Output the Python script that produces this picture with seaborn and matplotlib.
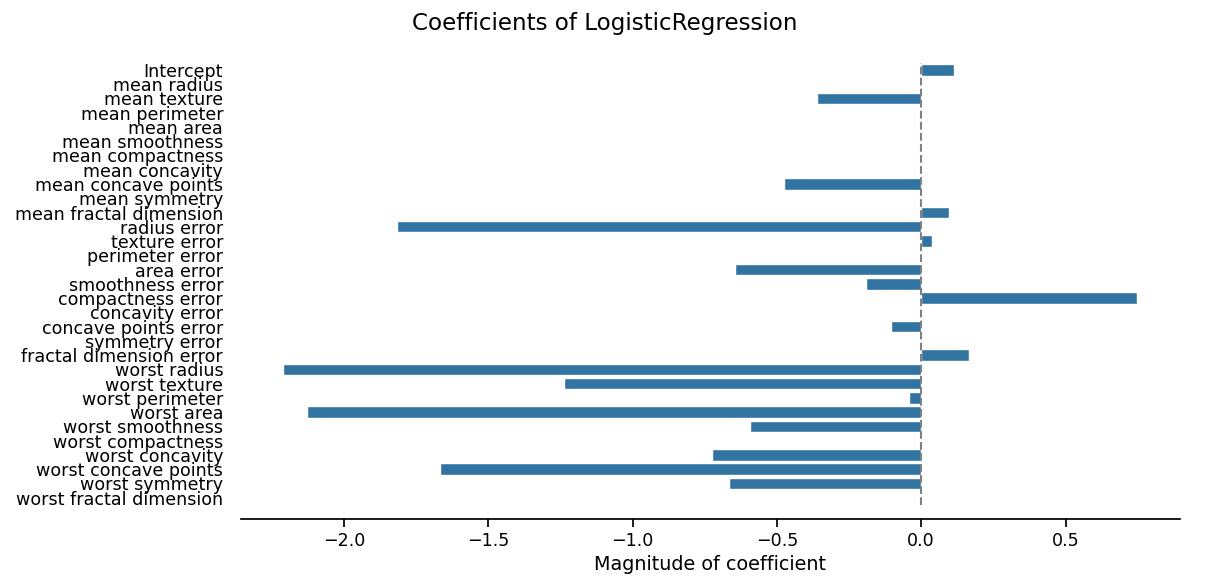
import numpy as np
import pandas as pd
import matplotlib
matplotlib.use("Agg")
import matplotlib.pyplot as plt
import seaborn as sns

# Feature names (Intercept first, then breast cancer features)
features = [
    "Intercept", "mean radius", "mean texture", "mean perimeter", "mean area",
    "mean smoothness", "mean compactness", "mean concavity", "mean concave points",
    "mean symmetry", "mean fractal dimension", "radius error", "texture error",
    "perimeter error", "area error", "smoothness error", "compactness error",
    "concavity error", "concave points error", "symmetry error",
    "fractal dimension error", "worst radius", "worst texture", "worst perimeter",
    "worst area", "worst smoothness", "worst compactness", "worst concavity",
    "worst concave points", "worst symmetry", "worst fractal dimension",
]

# Coefficient values
coefs = [
    0.113, 0.0, -0.360, 0.0, 0.0,
    0.0, 0.0, 0.0, -0.477,
    0.0, 0.098, -1.816, 0.037,
    0.0, -0.644, -0.193, 0.748,
    0.0, -0.106, 0.0,
    0.167, -2.210, -1.239, -0.043,
    -2.128, -0.592, 0.0, -0.724,
    -1.666, -0.665, 0.0,
]

df = pd.DataFrame({"feature": features, "coef": coefs})

sns.set_theme(style="ticks", context="notebook", font_scale=1.15,
              rc={"text.color": "black", "axes.labelcolor": "black",
                  "xtick.color": "black", "ytick.color": "black",
                  "axes.edgecolor": "black"})
plt.rcParams["font.family"] = ["DejaVu Sans"]

fig, ax = plt.subplots(figsize=(12.1, 5.87), dpi=100)
fig.subplots_adjust(left=0.199, right=0.975, top=0.893, bottom=0.14)

sns.barplot(data=df, x="coef", y="feature", orient="h", color="#1f77b4", ax=ax)
ax.axvline(0, color="gray", linestyle="--")

ax.set_xlabel("Magnitude of coefficient")
ax.set_ylabel("")
ax.tick_params(axis="y", left=False, pad=6.7)
sns.despine(ax=ax, left=True, offset=10)

fig.suptitle("Coefficients of LogisticRegression")

fig.savefig("out.png", dpi=100)
